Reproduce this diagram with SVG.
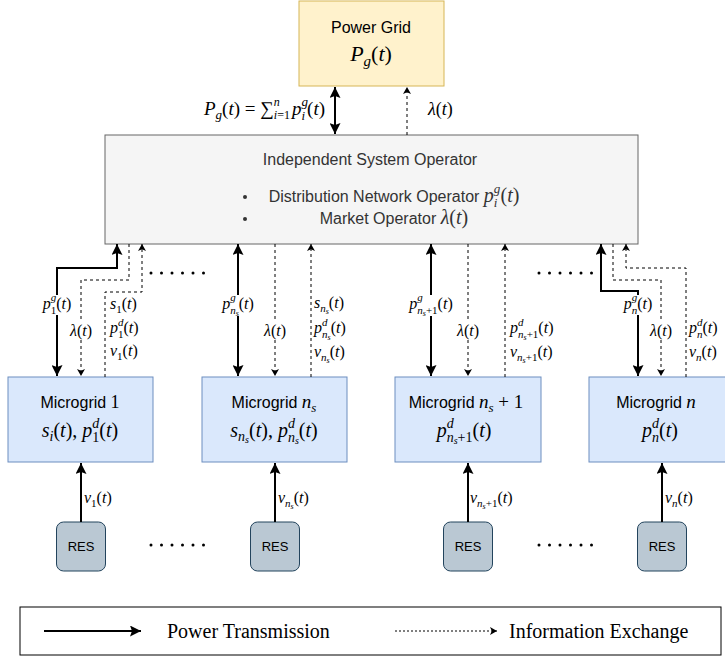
<svg xmlns="http://www.w3.org/2000/svg" width="725" height="658" viewBox="0 0 725 658">
<style>
.s{font-family:"Liberation Sans",Arial,sans-serif;}
.m{font-family:"Liberation Serif","Times New Roman",serif;font-style:italic;}
.u{font-style:normal;}
.t{font-family:"Liberation Serif","Times New Roman",serif;}
.sol{fill:none;stroke:#000;stroke-width:2;}
.das{fill:none;stroke:#000;stroke-width:1;stroke-dasharray:3 3;}
.bg{fill:#fff;stroke:none;}
.mg{fill:#dae8fc;stroke:#6c8ebf;stroke-width:1;}
.res{fill:#bac8d3;stroke:#23445d;stroke-width:1;}
.dots{fill:none;stroke:#000;stroke-width:3;stroke-linecap:round;stroke-dasharray:0 10.5;}
</style>
<defs>
<marker id="aS" markerUnits="userSpaceOnUse" markerWidth="11" markerHeight="11" viewBox="0 0 11 11" refX="11" refY="5.5" orient="auto-start-reverse"><path d="M0,0 L11,5.5 L0,11 L2,5.5 z" fill="#000"/></marker>
<marker id="aD" markerUnits="userSpaceOnUse" markerWidth="7" markerHeight="8" viewBox="0 0 7 8" refX="7" refY="4" orient="auto"><path d="M0,0 L7,4 L0,8 L1.8,4 z" fill="#000"/></marker>
</defs>

<g id="power-grid">
<rect x="299" y="1" width="145" height="85" fill="#fff2cc" stroke="#d6b656"/>
<text x="371" y="33" text-anchor="middle" class="s" font-size="16">Power Grid</text>
<text x="371" y="61" text-anchor="middle" class="m" font-size="22">P<tspan font-size="15" dy="5">g</tspan><tspan class="u" dy="-5">(</tspan>t<tspan class="u">)</tspan></text>
</g>

<g id="iso">
<rect x="105" y="135" width="533" height="109" fill="#f5f5f5" stroke="#666"/>
<text x="370" y="165" text-anchor="middle" class="s" font-size="16" fill="#333">Independent System Operator</text>
<circle cx="245" cy="197" r="2" fill="#333"/>
<circle cx="245" cy="219" r="2" fill="#333"/>
<text x="394" y="202" text-anchor="middle" class="s" font-size="16" fill="#333">Distribution Network Operator <tspan class="m" font-size="20">p</tspan><tspan class="m" font-size="13" dy="-9">g</tspan><tspan class="m" font-size="13" dx="-6.5" dy="14">i</tspan><tspan class="m u" font-size="20" dx="3" dy="-5">(</tspan><tspan class="m" font-size="20">t</tspan><tspan class="m u" font-size="20">)</tspan></text>
<text x="394" y="224" text-anchor="middle" class="s" font-size="16" fill="#333">Market Operator <tspan class="m" font-size="20">λ</tspan><tspan class="m u" font-size="20">(</tspan><tspan class="m" font-size="20">t</tspan><tspan class="m u" font-size="20">)</tspan></text>
</g>

<g id="mg1">
<rect class="mg" x="8" y="377" width="145" height="85"/>
<text x="80" y="408" text-anchor="middle" class="s" font-size="16">Microgrid <tspan class="t" font-size="18">1</tspan></text>
<text x="80" y="437" text-anchor="middle" class="m" font-size="20">s<tspan font-size="14" dy="4">i</tspan><tspan class="u" dy="-4">(</tspan>t<tspan class="u">), </tspan>p<tspan font-size="14" dy="-9">d</tspan><tspan class="u" font-size="14" dx="-7" dy="14">1</tspan><tspan class="u" dy="-5">(</tspan>t<tspan class="u">)</tspan></text>
</g>

<g id="mgns">
<rect class="mg" x="202" y="377" width="145" height="85"/>
<text x="274" y="408" text-anchor="middle" class="s" font-size="16">Microgrid <tspan class="m" font-size="19">n</tspan><tspan class="m" font-size="13" dy="4">s</tspan></text>
<text x="274" y="437" text-anchor="middle" class="m" font-size="20">s<tspan font-size="14" dy="4">n</tspan><tspan font-size="10" dy="2">s</tspan><tspan class="u" dy="-6">(</tspan>t<tspan class="u">), </tspan>p<tspan font-size="14" dy="-9">d</tspan><tspan font-size="14" dx="-7" dy="14">n</tspan><tspan font-size="10" dy="2">s</tspan><tspan class="u" dy="-7">(</tspan>t<tspan class="u">)</tspan></text>
</g>

<g id="mgns1">
<rect class="mg" x="395" y="377" width="146" height="85"/>
<text x="466" y="408" text-anchor="middle" class="s" font-size="16">Microgrid <tspan class="m" font-size="19">n</tspan><tspan class="m" font-size="13" dy="4">s</tspan><tspan class="t" font-size="19" dy="-4"> + 1</tspan></text>
<text x="464" y="437" text-anchor="middle" class="m" font-size="20">p<tspan font-size="14" dy="-9">d</tspan><tspan font-size="14" dx="-7" dy="14">n</tspan><tspan font-size="10" dy="2">s</tspan><tspan class="u" font-size="14" dy="-2">+1</tspan><tspan class="u" dy="-5">(</tspan>t<tspan class="u">)</tspan></text>
</g>

<g id="mgn">
<rect class="mg" x="589" y="377" width="145" height="85"/>
<text x="656" y="408" text-anchor="middle" class="s" font-size="16">Microgrid <tspan class="m" font-size="19">n</tspan></text>
<text x="660" y="437" text-anchor="middle" class="m" font-size="20">p<tspan font-size="14" dy="-9">d</tspan><tspan font-size="14" dx="-7" dy="14">n</tspan><tspan class="u" dy="-5">(</tspan>t<tspan class="u">)</tspan></text>
</g>

<g id="res1"><rect class="res" x="56.5" y="522" width="49" height="49" rx="7"/><text x="81" y="551" text-anchor="middle" class="s" font-size="13">RES</text></g>
<g id="res2"><rect class="res" x="250.5" y="522" width="49" height="49" rx="7"/><text x="275" y="551" text-anchor="middle" class="s" font-size="13">RES</text></g>
<g id="res3"><rect class="res" x="443.5" y="522" width="49" height="49" rx="7"/><text x="468" y="551" text-anchor="middle" class="s" font-size="13">RES</text></g>
<g id="res4"><rect class="res" x="637.5" y="522" width="49" height="49" rx="7"/><text x="662" y="551" text-anchor="middle" class="s" font-size="13">RES</text></g>

<g id="connectors">
<path class="sol" d="M335,87 L335,134" marker-start="url(#aS)" marker-end="url(#aS)"/>
<path class="das" d="M407,135 L407,87" marker-end="url(#aD)"/>

<path class="sol" d="M57,376 L57,268 L117,268 L117,244" marker-start="url(#aS)" marker-end="url(#aS)"/>
<path class="das" d="M129,244 L129,280 L81,280 L81,376" marker-end="url(#aD)"/>
<path class="das" d="M105,377 L105,292 L142,292 L142,244" marker-end="url(#aD)"/>

<path class="sol" d="M238,376 L238,244" marker-start="url(#aS)" marker-end="url(#aS)"/>
<path class="das" d="M275,244 L275,376" marker-end="url(#aD)"/>
<path class="das" d="M311,377 L311,244" marker-end="url(#aD)"/>

<path class="sol" d="M431,376 L431,244" marker-start="url(#aS)" marker-end="url(#aS)"/>
<path class="das" d="M468,244 L468,376" marker-end="url(#aD)"/>
<path class="das" d="M505,377 L505,244" marker-end="url(#aD)"/>

<path class="sol" d="M601,244 L601,291 L638,291 L638,376" marker-start="url(#aS)" marker-end="url(#aS)"/>
<path class="das" d="M613,244 L613,280 L661,280 L661,376" marker-end="url(#aD)"/>
<path class="das" d="M686,377 L686,268 L626,268 L626,244" marker-end="url(#aD)"/>

<path class="sol" d="M81,522 L81,463" marker-end="url(#aS)"/>
<path class="sol" d="M275,522 L275,463" marker-end="url(#aS)"/>
<path class="sol" d="M468,522 L468,463" marker-end="url(#aS)"/>
<path class="sol" d="M662,522 L662,463" marker-end="url(#aS)"/>

<line class="dots" x1="151" y1="273" x2="205" y2="273"/>
<line class="dots" x1="539" y1="273" x2="593" y2="273"/>
<line class="dots" x1="151" y1="545" x2="205" y2="545"/>
<line class="dots" x1="539" y1="545" x2="593" y2="545"/>
</g>

<g id="labels">
<text x="325" y="115" text-anchor="end" class="m" font-size="19">P<tspan font-size="13" dy="4">g</tspan><tspan class="u" dy="-4">(</tspan>t<tspan class="u">) = ∑</tspan><tspan font-size="12" dy="-9">n</tspan><tspan font-size="12" dx="-6" dy="13">i</tspan><tspan class="u" font-size="12">=1</tspan><tspan dx="2" dy="-4">p</tspan><tspan font-size="13" dy="-9">g</tspan><tspan font-size="13" dx="-6.5" dy="14">i</tspan><tspan class="u" dx="2" dy="-5">(</tspan>t<tspan class="u">)</tspan></text>
<text x="428" y="115" class="m" font-size="18">λ<tspan class="u">(</tspan>t<tspan class="u">)</tspan></text>

<rect class="bg" x="36" y="295" width="42" height="20"/>
<text x="57" y="309" text-anchor="middle" class="m" font-size="16">p<tspan font-size="11" dy="-8">g</tspan><tspan class="u" font-size="11" dx="-5.5" dy="13">1</tspan><tspan class="u" dy="-5">(</tspan>t<tspan class="u">)</tspan></text>
<rect class="bg" x="66" y="322" width="30" height="18"/>
<text x="81" y="336" text-anchor="middle" class="m" font-size="16">λ<tspan class="u">(</tspan>t<tspan class="u">)</tspan></text>
<text x="110" y="309" class="m" font-size="16">s<tspan class="u" font-size="11" dy="4">1</tspan><tspan class="u" dy="-4">(</tspan>t<tspan class="u">)</tspan></text>
<text x="110" y="333" class="m" font-size="16">p<tspan font-size="11" dy="-7">d</tspan><tspan class="u" font-size="11" dx="-5.5" dy="12">1</tspan><tspan class="u" dy="-5">(</tspan>t<tspan class="u">)</tspan></text>
<text x="110" y="356" class="m" font-size="16">v<tspan class="u" font-size="11" dy="4">1</tspan><tspan class="u" dy="-4">(</tspan>t<tspan class="u">)</tspan></text>

<rect class="bg" x="215" y="295" width="46" height="21"/>
<text x="238" y="309" text-anchor="middle" class="m" font-size="16">p<tspan font-size="11" dy="-8">g</tspan><tspan font-size="11" dx="-5.5" dy="13">n</tspan><tspan font-size="8" dy="2">s</tspan><tspan class="u" dy="-7">(</tspan>t<tspan class="u">)</tspan></text>
<rect class="bg" x="260" y="322" width="30" height="18"/>
<text x="275" y="336" text-anchor="middle" class="m" font-size="16">λ<tspan class="u">(</tspan>t<tspan class="u">)</tspan></text>
<text x="314" y="308" class="m" font-size="16">s<tspan font-size="11" dy="4">n</tspan><tspan font-size="8" dy="2">s</tspan><tspan class="u" dy="-6">(</tspan>t<tspan class="u">)</tspan></text>
<text x="314" y="333" class="m" font-size="16">p<tspan font-size="11" dy="-7">d</tspan><tspan font-size="11" dx="-5.5" dy="12">n</tspan><tspan font-size="8" dy="2">s</tspan><tspan class="u" dy="-7">(</tspan>t<tspan class="u">)</tspan></text>
<text x="314" y="357" class="m" font-size="16">v<tspan font-size="11" dy="4">n</tspan><tspan font-size="8" dy="2">s</tspan><tspan class="u" dy="-6">(</tspan>t<tspan class="u">)</tspan></text>

<rect class="bg" x="403" y="295" width="57" height="21"/>
<text x="431" y="309" text-anchor="middle" class="m" font-size="16">p<tspan font-size="11" dy="-8">g</tspan><tspan font-size="11" dx="-5.5" dy="13">n</tspan><tspan font-size="8" dy="2">s</tspan><tspan class="u" font-size="11" dy="-2">+1</tspan><tspan class="u" dy="-5">(</tspan>t<tspan class="u">)</tspan></text>
<rect class="bg" x="453" y="322" width="30" height="18"/>
<text x="468" y="336" text-anchor="middle" class="m" font-size="16">λ<tspan class="u">(</tspan>t<tspan class="u">)</tspan></text>
<text x="510" y="333" class="m" font-size="16">p<tspan font-size="11" dy="-7">d</tspan><tspan font-size="11" dx="-5.5" dy="12">n</tspan><tspan font-size="8" dy="2">s</tspan><tspan class="u" font-size="11" dy="-2">+1</tspan><tspan class="u" dy="-5">(</tspan>t<tspan class="u">)</tspan></text>
<text x="510" y="357" class="m" font-size="16">v<tspan font-size="11" dy="4">n</tspan><tspan font-size="8" dy="2">s</tspan><tspan class="u" font-size="11" dy="-2">+1</tspan><tspan class="u" dy="-4">(</tspan>t<tspan class="u">)</tspan></text>

<rect class="bg" x="620" y="295" width="36" height="20"/>
<text x="638" y="309" text-anchor="middle" class="m" font-size="16">p<tspan font-size="11" dy="-8">g</tspan><tspan font-size="11" dx="-5.5" dy="13">n</tspan><tspan class="u" dy="-5">(</tspan>t<tspan class="u">)</tspan></text>
<rect class="bg" x="646" y="322" width="30" height="18"/>
<text x="661" y="336" text-anchor="middle" class="m" font-size="16">λ<tspan class="u">(</tspan>t<tspan class="u">)</tspan></text>
<text x="689" y="333" class="m" font-size="16">p<tspan font-size="11" dy="-7">d</tspan><tspan font-size="11" dx="-5.5" dy="12">n</tspan><tspan class="u" dy="-5">(</tspan>t<tspan class="u">)</tspan></text>
<text x="689" y="357" class="m" font-size="16">v<tspan font-size="11" dy="4">n</tspan><tspan class="u" dy="-4">(</tspan>t<tspan class="u">)</tspan></text>

<text x="84" y="503" class="m" font-size="16">v<tspan class="u" font-size="11" dy="4">1</tspan><tspan class="u" dy="-4">(</tspan>t<tspan class="u">)</tspan></text>
<text x="278" y="503" class="m" font-size="16">v<tspan font-size="11" dy="4">n</tspan><tspan font-size="8" dy="2">s</tspan><tspan class="u" dy="-6">(</tspan>t<tspan class="u">)</tspan></text>
<text x="470" y="503" class="m" font-size="16">v<tspan font-size="11" dy="4">n</tspan><tspan font-size="8" dy="2">s</tspan><tspan class="u" font-size="11" dy="-2">+1</tspan><tspan class="u" dy="-4">(</tspan>t<tspan class="u">)</tspan></text>
<text x="665" y="503" class="m" font-size="16">v<tspan font-size="11" dy="4">n</tspan><tspan class="u" dy="-4">(</tspan>t<tspan class="u">)</tspan></text>
</g>

<g id="legend">
<rect x="20" y="607" width="701" height="48" fill="#fff" stroke="#000" stroke-width="1"/>
<path class="sol" d="M44,631 L141,631" marker-end="url(#aS)"/>
<text x="167" y="638" class="t" font-size="20">Power Transmission</text>
<path fill="none" stroke="#000" stroke-width="1" stroke-dasharray="2 2" d="M395,631 L497,631" marker-end="url(#aD)"/>
<text x="509" y="638" class="t" font-size="20">Information Exchange</text>
</g>
</svg>
